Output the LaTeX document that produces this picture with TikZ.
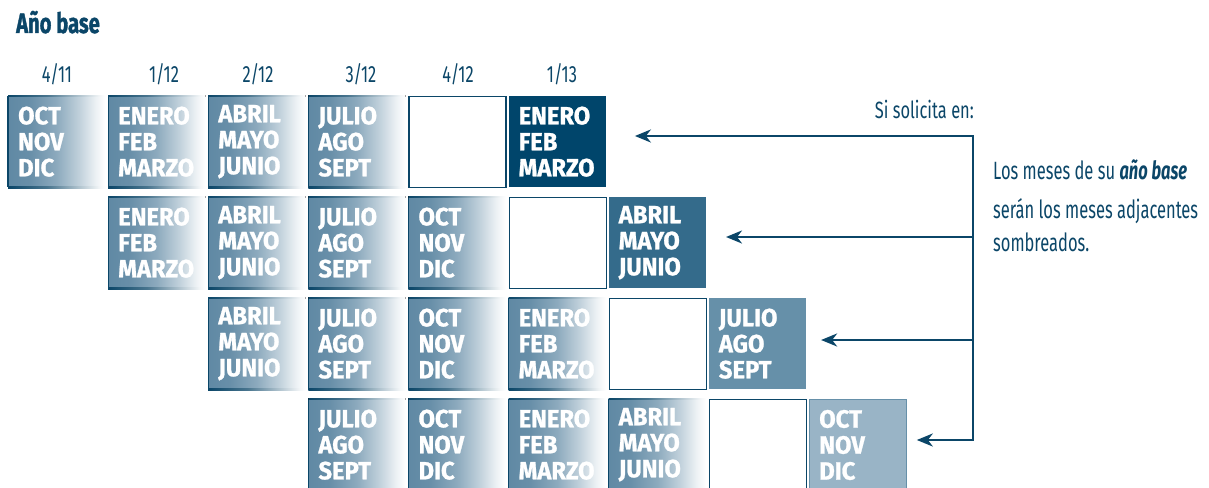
\documentclass[tikz,border=0pt]{standalone}
\usepackage{fontspec}
\setmainfont{Fira Sans}
\newfontfamily\condf[FakeStretch=0.70]{Fira Sans}
\newfontfamily\paraf[FakeStretch=0.66]{Fira Sans}
\newfontfamily\titlef[FakeStretch=0.72,FakeBold=1.2]{Fira Sans}
\newfontfamily\boxf[FakeStretch=0.95,FakeBold=1.0]{Fira Sans}
\usetikzlibrary{arrows.meta}
\definecolor{navy}{HTML}{0B4668}
\definecolor{gb}{HTML}{6089A4}
\definecolor{c1}{HTML}{00456B}
\definecolor{c2}{HTML}{346B8B}
\definecolor{c3}{HTML}{6690A9}
\definecolor{c4}{HTML}{99B4C6}
\pgfdeclarehorizontalshading{fadebox}{100bp}{color(0bp)=(gb); color(25bp)=(gb); color(36bp)=(gb!95!white); color(50bp)=(gb!72!white); color(62bp)=(gb!38!white); color(70bp)=(gb!12!white); color(75bp)=(white); color(100bp)=(white)}
\pgfdeclarehorizontalshading{fadeline}{100bp}{color(0bp)=(navy); color(25bp)=(navy); color(45bp)=(navy!75!white); color(72bp)=(navy!5!white); color(75bp)=(white); color(100bp)=(white)}
\tikzset{
  mbox/.style={rectangle, anchor=north west, minimum height=91pt, text width=77pt,
    inner xsep=10pt, inner ysep=0pt, text=white, align=left,
    font=\boxf\bfseries\fontsize{25}{26}\selectfont},
  gbox/.style={mbox, shading=fadebox},
  sbox/.style={mbox},
  ebox/.style={rectangle, anchor=north west, minimum width=97pt, minimum height=91pt,
    draw=navy, line width=1.2pt, fill=white},
  lbl/.style={text=navy, inner sep=0pt, font=\condf\fontsize{23.5}{25}\selectfont},
  para/.style={text=navy, inner sep=0pt, anchor=base west, font=\paraf\fontsize{25}{27}\selectfont},
  conn/.style={draw=navy, line width=2.4pt},
  tip/.style={-{Stealth[length=16pt,width=13pt,inset=5pt]}}
}
\def\QA{ENERO\\FEB\\MARZO}
\def\QB{ABRIL\\MAYO\\JUNIO}
\def\QC{JULIO\\AGO\\SEPT}
\def\QD{OCT\\NOV\\DIC}
\newcommand\gbx[4]{%
  \node[gbox] (#1) at ({8+100.1*#2},{96+101*#3}) {#4};
  \draw[navy, line width=1.2pt] (#1.north west) -- (#1.south west);
  \fill[shading=fadeline] ([yshift=0.6pt]#1.north west) rectangle ([yshift=-0.6pt]#1.north east);
  \fill[shading=fadeline] ([yshift=0.6pt]#1.south west) rectangle ([yshift=-0.6pt]#1.south east);}
\newcommand\ebx[3]{\node[ebox] (#1) at ({8+100.1*#2},{96+101*#3}) {};}
\begin{document}
\begin{tikzpicture}[x=1pt,y=-1pt]
\useasboundingbox (0,0) rectangle (1209,487);
\clip (0,0) rectangle (1209,487);
\fill[white] (0,0) rectangle (1209,487);
% title
\node[anchor=base west, inner sep=0pt, text=navy, font=\titlef\bfseries\fontsize{28}{30}\selectfont] (title) at (16,33) {Año base};
% headers
\node[lbl, anchor=base] (h1) at (57,82) {4/11};
\node[lbl, anchor=base] (h2) at (164,82) {1/12};
\node[lbl, anchor=base] (h3) at (258,82) {2/12};
\node[lbl, anchor=base] (h4) at (361,82) {3/12};
\node[lbl, anchor=base] (h5) at (458,82) {4/12};
\node[lbl, anchor=base] (h6) at (562,82) {1/13};
% row 1
\gbx{a1}{0}{0}{\QD}
\gbx{a2}{1}{0}{\QA}
\gbx{a3}{2}{0}{\QB}
\gbx{a4}{3}{0}{\QC}
\ebx{e1}{4}{0}
\node[sbox, fill=c1] (s1) at ({8+100.1*5},96) {\QA};
% row 2
\gbx{b1}{1}{1}{\QA}
\gbx{b2}{2}{1}{\QB}
\gbx{b3}{3}{1}{\QC}
\gbx{b4}{4}{1}{\QD}
\ebx{e2}{5}{1}
\node[sbox, fill=c2] (s2) at ({8+100.1*6},197) {\QB};
% row 3
\gbx{c1n}{2}{2}{\QB}
\gbx{c2n}{3}{2}{\QC}
\gbx{c3n}{4}{2}{\QD}
\gbx{c4n}{5}{2}{\QA}
\ebx{e3}{6}{2}
\node[sbox, fill=c3] (s3) at ({8+100.1*7},298) {\QC};
% row 4
\gbx{d1}{3}{3}{\QC}
\gbx{d2}{4}{3}{\QD}
\gbx{d3}{5}{3}{\QA}
\gbx{d4}{6}{3}{\QB}
\ebx{e4}{7}{3}
\node[sbox, fill=c4, draw=c3, line width=1pt] (s4) at ({8+100.1*8},399) {\QD};
% right texts
\node[lbl, anchor=base east] (si) at (974,118) {Si solicita en:};
\node[para] (p1) at (993,179) {Los meses de su {\bfseries\itshape año base}};
\node[para] (p2) at (993,218) {serán los meses adjacentes};
\node[para] (p3) at (993,251) {sombreados.};
% connectors
\coordinate (j1) at (973,136);
\coordinate (j2) at (973,237);
\coordinate (j3) at (973,340);
\coordinate (j4) at (973,440);
\draw[conn, {Stealth[length=16pt,width=13pt,inset=5pt]}-{Stealth[length=16pt,width=13pt,inset=5pt]}, line join=miter]
  ([xshift=29pt]s1.east |- j1) -- (j1) -- (j4) -- ([xshift=10pt]s4.east |- j4);
\draw[conn, tip] (j2) -- ([xshift=20pt]s2.east |- j2);
\draw[conn, tip] (j3) -- ([xshift=15pt]s3.east |- j3);
\end{tikzpicture}
\end{document}
